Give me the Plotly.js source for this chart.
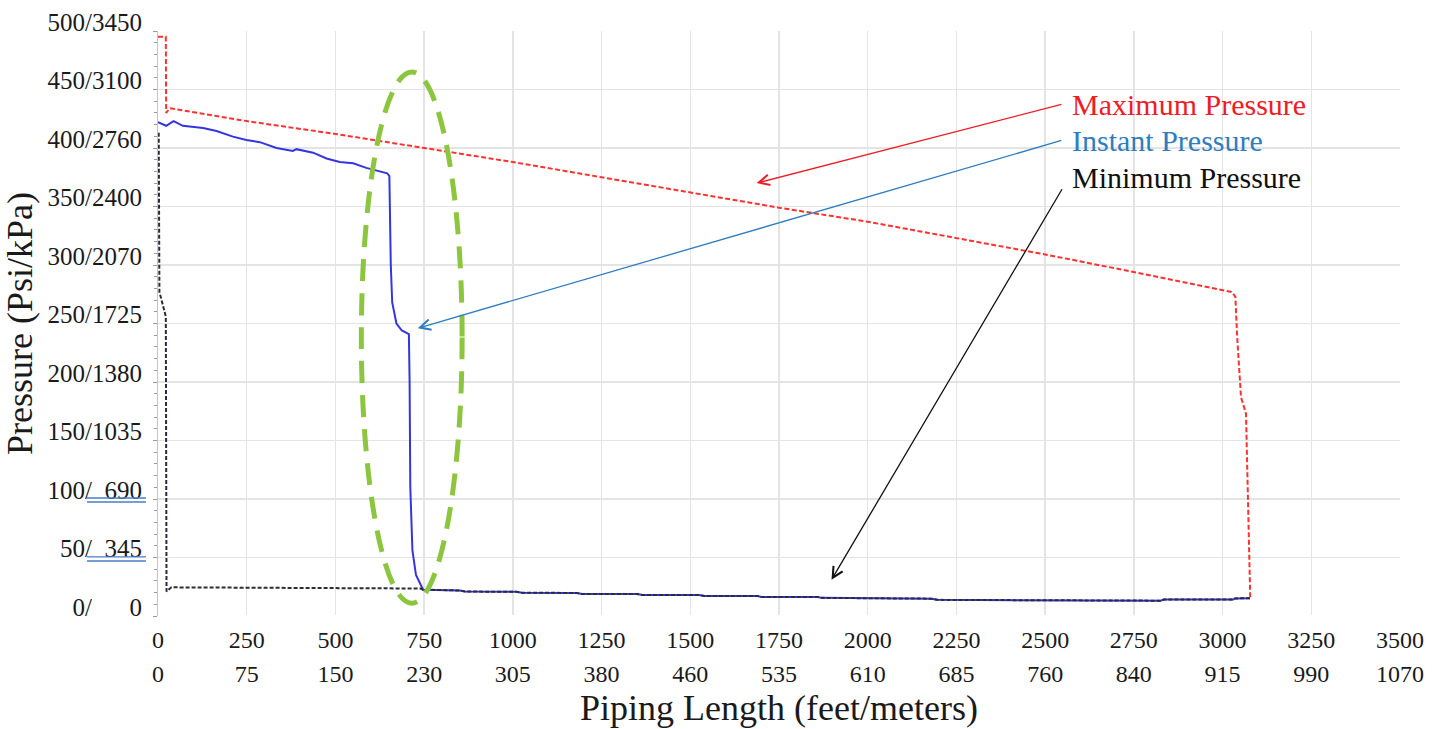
<!DOCTYPE html>
<html>
<head>
<meta charset="utf-8">
<script src="https://cdn.plot.ly/plotly-3.0.1.min.js"></script>
<style>
  html, body { margin: 0; padding: 0; background: #ffffff; }
  #chart { width: 1439px; height: 729px; }
</style>
</head>
<body>
<div id="chart"></div>
<script>
// ---- Tick labels ----
const feetTicks = [0, 250, 500, 750, 1000, 1250, 1500, 1750, 2000, 2250, 2500, 2750, 3000, 3250, 3500];
const meterTickText = ['0', '75', '150', '230', '305', '380', '460', '535', '610', '685', '760', '840', '915', '990', '1070'];
const psiTicks = [0, 50, 100, 150, 200, 250, 300, 350, 400, 450, 500];
const FS = '\u2007';
const psiTickText = [
  '0/' + FS + FS + FS + '0',
  '50/' + FS + '345',
  '100/' + FS + '690',
  '150/1035', '200/1380', '250/1725', '300/2070',
  '350/2400', '400/2760', '450/3100', '500/3450'
];

// ---- Series (piping length in feet, pressure in psi) ----
const maxLength = [0, 22, 23, 33, 250, 500, 750, 1000, 1250, 1500, 1750, 2000, 2250, 2500, 2750, 2900, 3025, 3036, 3041, 3052, 3066, 3078];
const maxPsi    = [495, 495, 430, 434, 423, 412, 400, 388, 375, 362, 349, 337, 323, 309, 294, 285, 277, 273, 239, 187, 173, 15];

const instLengthTop = [0, 23, 44, 70, 127, 165, 211, 249, 287, 334, 380, 390, 437, 475, 512, 550, 587, 646, 652, 656, 660, 672, 687, 707, 709, 711, 717, 727];
const instPsiTop    = [422, 419, 423, 419, 417, 414.5, 409.7, 406.8, 405, 400, 397.5, 399, 396, 391, 388, 387, 383, 378.4, 376, 300, 268, 250, 244, 241, 201, 110, 56, 35];

const minLengthTop = [2, 3, 4, 22, 24, 38, 740];
const minPsiTop    = [413, 340, 277, 256, 21, 24.5, 23.5];

// shared segment where instant and minimum pressure coincide
const bottomLength = [747, 850, 865, 1010, 1025, 1180, 1195, 1350, 1365, 1525, 1540, 1690, 1700, 1860, 1870, 2015, 2025, 2180, 2195, 2480, 2495, 2825, 2835, 3030, 3035, 3077];
const bottomPsi    = [22.5, 21.8, 20.9, 20.7, 19.9, 19.7, 18.9, 18.8, 18.0, 17.9, 17.1, 17.0, 16.3, 16.2, 15.5, 15.4, 14.9, 14.8, 13.8, 13.7, 13.1, 13.1, 14.0, 14.1, 15.0, 15.2];

const instLength = instLengthTop.concat(bottomLength);
const instPsi = instPsiTop.concat(bottomPsi);
const minLength = minLengthTop.concat(bottomLength);
const minPsi = minPsiTop.concat(bottomPsi);

// ---- Annotation labels ----
const labelNames = ['Maximum Pressure', 'Instant Pressure', 'Minimum Pressure'];
const labelColors = ['#ee1c24', '#2e7dc0', '#111111'];

const SERIF = '"Liberation Serif", "Times New Roman", serif';

const traces = [
  { type: 'scatter', mode: 'lines', name: labelNames[0], x: maxLength, y: maxPsi,
    line: { color: '#ff3030', width: 2, dash: '5px,2.5px' }, hoverinfo: 'skip' },
  { type: 'scatter', mode: 'lines', name: labelNames[1], x: instLength, y: instPsi,
    line: { color: '#3535e0', width: 2 }, hoverinfo: 'skip' },
  { type: 'scatter', mode: 'lines', name: labelNames[2], x: minLength, y: minPsi,
    line: { color: '#2b2b3a', width: 2, dash: '4px,2px' }, hoverinfo: 'skip' },
  { type: 'scatter', mode: 'lines', x: [], y: [], xaxis: 'x2', yaxis: 'y', showlegend: false, hoverinfo: 'skip' }
];

const arrowBase = { xref: 'x', yref: 'y', axref: 'x', ayref: 'y', text: '', showarrow: true,
  arrowhead: 5, arrowsize: 1.6, arrowwidth: 1.3, standoff: 0 };

function label(i, y) {
  return { xref: 'x', yref: 'y', x: 2570, y: y, xanchor: 'left', yanchor: 'middle', showarrow: false,
    text: labelNames[i], font: { family: SERIF, size: 30, color: labelColors[i] } };
}

// blue double underline under the "/ 690" and "/ 345" tick labels (paper coordinates)
function underline(yp) {
  return { type: 'line', xref: 'paper', yref: 'paper', x0: -0.0572, x1: -0.0097, y0: yp, y1: yp,
    line: { color: '#4a7dc9', width: 1.3 }, layer: 'above' };
}

const layout = {
  width: 1439, height: 729,
  margin: { l: 158, r: 39, t: 31, b: 113 },
  paper_bgcolor: '#ffffff', plot_bgcolor: '#ffffff',
  font: { family: SERIF, color: '#1a1a1a' },
  showlegend: false,
  xaxis: {
    range: [0, 3500], tickmode: 'array', tickvals: feetTicks, ticktext: feetTicks.map(String),
    showgrid: true, gridcolor: '#e4e4e4', gridwidth: 1.5, zeroline: false, showline: false,
    ticks: '', tickfont: { family: SERIF, size: 24, color: '#1a1a1a' }, ticklabelstandoff: 7
  },
  xaxis2: {
    overlaying: 'x', anchor: 'y', side: 'bottom', range: [0, 3500],
    tickmode: 'array', tickvals: feetTicks, ticktext: meterTickText,
    showgrid: false, zeroline: false, showline: false, ticks: '',
    tickfont: { family: SERIF, size: 24, color: '#1a1a1a' }, ticklabelstandoff: 41,
    title: { text: 'Piping Length (feet/meters)', font: { family: SERIF, size: 36, color: '#1a1a1a' }, standoff: 8 }
  },
  yaxis: {
    range: [0, 500], tickmode: 'array', tickvals: psiTicks, ticktext: psiTickText,
    showgrid: true, gridcolor: '#e4e4e4', gridwidth: 1.5,
    zeroline: true, zerolinecolor: '#ffffff', zerolinewidth: 2,
    showline: true, linecolor: '#c4c4c4', linewidth: 1,
    ticks: 'outside', ticklen: 4, tickcolor: '#9a9a9a',
    minor: { dtick: 10, ticks: 'outside', ticklen: 3, tickcolor: '#9a9a9a', showgrid: false },
    tickfont: { family: SERIF, size: 25, color: '#1a1a1a' }, ticklabelshift: -9, ticklabelstandoff: 6,
    title: { text: 'Pressure (Psi/kPa)', font: { family: SERIF, size: 36, color: '#1a1a1a' }, standoff: 4 }
  },
  shapes: [
    { type: 'circle', xref: 'x', yref: 'y', x0: 573, x1: 857, y0: 11, y1: 465, layer: 'above',
      line: { color: '#8cc63f', width: 5, dash: '22px,12px' } },
    underline(0.2017), underline(0.1949),
    underline(0.1009), underline(0.0940)
  ],
  annotations: [
    Object.assign({}, arrowBase, { x: 1687, y: 370, ax: 2550, ay: 437.6, arrowcolor: labelColors[0] }),
    Object.assign({}, arrowBase, { x: 732, y: 246, ax: 2550, ay: 406.8, arrowcolor: labelColors[1] }),
    Object.assign({}, arrowBase, { x: 1898, y: 31, ax: 2550, ay: 366, arrowcolor: labelColors[2] }),
    label(0, 437.6),
    label(1, 406.8),
    label(2, 375.2)
  ]
};

Plotly.newPlot('chart', traces, layout, { staticPlot: true, displayModeBar: false });
</script>
</body>
</html>
